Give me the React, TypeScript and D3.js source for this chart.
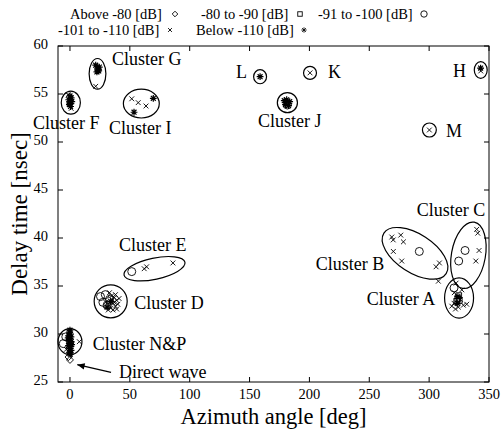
import { scaleLinear } from "d3";

type Pt = [number, number];

// measured points, [azimuth deg, delay nsec], grouped by received level
const above80: Pt[] = [[0, 27.3], [-1.2, 27.6]];
const from80to90: Pt[] = [[323.9, 33.7], [324.8, 34.0], [323, 33.4], [325.2, 33.5]];
const from91to100: Pt[] = [
  [-5.6, 29.0], [-3.5, 29.7],
  [25.5, 33.9], [29.5, 34.1], [27.5, 33.3], [33, 33.6], [31, 33.0],
  [51.6, 36.5],
  [181.6, 53.85],
  [291.8, 38.6], [330, 38.7], [324.7, 37.6], [320.8, 34.8]
];
const from101to110: Pt[] = [
  [7.8, 29.2], [-3, 28.4],
  [-1.5, 54.9], [1, 53.5], [21.5, 55.8],
  [51.6, 54.5], [57, 54.1], [63.5, 53.75],
  [33, 34.3], [35, 34.0], [37, 33.8], [39, 33.5], [36, 33.2], [38, 32.9], [34, 32.7],
  [40, 33.1], [32, 32.5], [36, 32.5], [30, 33.3], [38, 34.1], [41, 33.7], [35, 33.6],
  [33, 33.0], [37, 33.3], [39, 32.6],
  [62, 36.8], [64, 37.0], [86, 37.4],
  [200.5, 57.2], [343.1, 57.4], [300.2, 51.25],
  [268.8, 40.1], [270, 39.8], [276.3, 40.3], [278.5, 39.6], [270.1, 38.6], [277.1, 37.6],
  [305.8, 37.0], [308.6, 37.4], [307.7, 35.5],
  [339.7, 40.9], [340.6, 40.5], [341.7, 38.7], [339, 37.6],
  [322.5, 35.3], [327.3, 34.6], [320.8, 33.2], [324.4, 32.8], [328.6, 33.0], [331.4, 33.1],
  [318.9, 32.9], [321, 34.3], [326, 33.6], [322, 32.6]
];
const below110: Pt[] = [
  [-0.5, 30.2], [0.5, 30.0], [-1, 29.8], [0.8, 29.7], [0, 29.5], [-0.8, 29.3], [1, 29.2],
  [0.2, 29.0], [-1.2, 28.8], [0.6, 28.7], [-0.3, 28.5], [0.9, 28.3], [-0.6, 28.1],
  [0.3, 27.9], [-1.5, 29.6], [1.4, 28.9], [0, 30.4], [-0.2, 28.0],
  [-1, 54.4], [0, 54.0], [1, 54.6], [0.5, 53.7], [-0.5, 53.9], [1.5, 54.2], [0, 54.8],
  [21.5, 58.0], [23, 57.7], [24, 57.4], [22.5, 57.3], [24.5, 57.8], [23.5, 57.5],
  [69.6, 54.55], [53.5, 53.1],
  [34, 33.4], [31, 32.8],
  [158.8, 56.8],
  [179, 54.3], [181, 54.4], [183.5, 54.2], [180, 53.9], [182.5, 53.8],
  [343, 57.7],
  [324, 33.9], [323.5, 33.2]
];

// cluster outlines: centre, half-widths in data units, tilt in screen degrees
const clusters = [
  { name: "N&P", az: 0, delay: 29.2, rAz: 10, rDelay: 1.35, tilt: 0 },
  { name: "F", az: 0.7, delay: 54.1, rAz: 8, rDelay: 1.2, tilt: 0 },
  { name: "G", az: 23, delay: 57.1, rAz: 7, rDelay: 1.6, tilt: 0 },
  { name: "I", az: 59.6, delay: 54.0, rAz: 15, rDelay: 1.5, tilt: 0 },
  { name: "J", az: 181.6, delay: 54.1, rAz: 8.4, rDelay: 1.05, tilt: 0 },
  { name: "L", az: 158.8, delay: 56.8, rAz: 5.4, rDelay: 0.73, tilt: 0 },
  { name: "K", az: 200.5, delay: 57.2, rAz: 5.4, rDelay: 0.68, tilt: 0 },
  { name: "H", az: 343.1, delay: 57.5, rAz: 5.4, rDelay: 0.88, tilt: 0 },
  { name: "M", az: 300.2, delay: 51.25, rAz: 5.8, rDelay: 0.73, tilt: 0 },
  { name: "E", az: 70.6, delay: 36.8, rAz: 26, rDelay: 1.1, tilt: -12 },
  { name: "D", az: 34, delay: 33.4, rAz: 13.8, rDelay: 1.72, tilt: 0 },
  { name: "B", az: 288.2, delay: 38.4, rAz: 31, rDelay: 2.0, tilt: 33 },
  { name: "C", az: 332.8, delay: 38.2, rAz: 14.2, rDelay: 3.5, tilt: 10 },
  { name: "A", az: 325, delay: 33.75, rAz: 12.1, rDelay: 2.1, tilt: 0 }
];

const labels = [
  { text: "Cluster G", az: 35.1, delay: 58.0 },
  { text: "Cluster F", az: -30.9, delay: 51.35 },
  { text: "Cluster I", az: 32.6, delay: 50.8 },
  { text: "L", az: 138.7, delay: 56.7 },
  { text: "K", az: 215.6, delay: 56.7 },
  { text: "H", az: 320, delay: 56.8 },
  { text: "Cluster J", az: 157.1, delay: 51.6 },
  { text: "M", az: 314.1, delay: 50.5 },
  { text: "Cluster E", az: 41, delay: 38.6 },
  { text: "Cluster D", az: 53.7, delay: 32.6 },
  { text: "Cluster N&P", az: 19, delay: 28.3 },
  { text: "Direct wave", az: 41, delay: 25.4 },
  { text: "Cluster B", az: 205.3, delay: 36.7 },
  { text: "Cluster C", az: 289.7, delay: 42.3 },
  { text: "Cluster A", az: 247.9, delay: 33.0 }
];

const arrowFrom: Pt = [34.3, 26.0];
const arrowTo: Pt = [6.1, 26.8];

const xTicks = [0, 50, 100, 150, 200, 250, 300, 350];
const yTicks = [25, 30, 35, 40, 45, 50, 55, 60];

const legendItems = [
  { text: "Above -80 [dB]", marker: "diamond", x: 70, mx: 175, y: 19 },
  { text: "-80 to -90 [dB]", marker: "square", x: 201, mx: 300, y: 19 },
  { text: "-91 to -100 [dB]", marker: "circle", x: 318, mx: 424, y: 19 },
  { text: "-101 to -110 [dB]", marker: "cross", x: 58, mx: 170, y: 35 },
  { text: "Below -110 [dB]", marker: "star", x: 196, mx: 304, y: 35 }
];

const width = 504;
const height = 430;
const plot = { left: 58, right: 489, top: 46, bottom: 382 };
const font = "'Liberation Serif', 'Times New Roman', serif";
const tickLen = 5;

function Marker({ kind, x, y, s = 1 }: { kind: string; x: number; y: number; s?: number }) {
  const stroke = { stroke: "#000", strokeWidth: 0.9, fill: "none" };
  if (kind === "diamond") {
    const r = 3.5 * s;
    return <path d={`M${x},${y - r}L${x + r},${y}L${x},${y + r}L${x - r},${y}Z`} {...stroke} />;
  }
  if (kind === "square") {
    const r = 2.8 * s;
    return <rect x={x - r} y={y - r} width={r * 2} height={r * 2} {...stroke} />;
  }
  if (kind === "circle") {
    return <circle cx={x} cy={y} r={4 * s} {...stroke} />;
  }
  if (kind === "cross") {
    const r = 2.4 * s;
    return <path d={`M${x - r},${y - r}L${x + r},${y + r}M${x - r},${y + r}L${x + r},${y - r}`} {...stroke} />;
  }
  const r = 3.4 * s;
  const d = r * 0.72;
  return (
    <path
      d={`M${x},${y - r}L${x},${y + r}M${x - r},${y}L${x + r},${y}M${x - d},${y - d}L${x + d},${y + d}M${x - d},${y + d}L${x + d},${y - d}`}
      stroke="#000"
      strokeWidth={s < 1 ? 0.8 : 1.2}
      fill="none"
    />
  );
}

export default function App() {
  const x = scaleLinear().domain([-10, 350]).range([plot.left, plot.right]);
  const y = scaleLinear().domain([25, 60]).range([plot.bottom, plot.top]);
  const pxPerAz = x(1) - x(0);
  const pxPerDelay = y(0) - y(1);

  const series: { kind: string; pts: Pt[] }[] = [
    { kind: "diamond", pts: above80 },
    { kind: "square", pts: from80to90 },
    { kind: "circle", pts: from91to100 },
    { kind: "cross", pts: from101to110 },
    { kind: "star", pts: below110 }
  ];

  const ax1 = x(arrowFrom[0]);
  const ay1 = y(arrowFrom[1]);
  const ax2 = x(arrowTo[0]);
  const ay2 = y(arrowTo[1]);
  const ang = Math.atan2(ay2 - ay1, ax2 - ax1);
  const head = 8;
  const h1 = [ax2 - head * Math.cos(ang - 0.4), ay2 - head * Math.sin(ang - 0.4)];
  const h2 = [ax2 - head * Math.cos(ang + 0.4), ay2 - head * Math.sin(ang + 0.4)];

  return (
    <svg
      width={width}
      height={height}
      style={{ position: "absolute", left: 0, top: 0, background: "#fff" }}
      fontFamily={font}
    >
      <rect x={0} y={0} width={width} height={height} fill="#fff" />

      {legendItems.map((item) => (
        <g key={item.text}>
          <text x={item.x} y={item.y} fontSize={14.5}>
            {item.text}
          </text>
          <Marker kind={item.marker} x={item.mx} y={item.y - 5} s={0.8} />
        </g>
      ))}

      <rect
        x={plot.left}
        y={plot.top}
        width={plot.right - plot.left}
        height={plot.bottom - plot.top}
        fill="none"
        stroke="#000"
        strokeWidth={1}
      />

      {xTicks.map((t) => (
        <g key={`x${t}`}>
          <line x1={x(t)} x2={x(t)} y1={plot.bottom} y2={plot.bottom - tickLen} stroke="#000" />
          <line x1={x(t)} x2={x(t)} y1={plot.top} y2={plot.top + tickLen} stroke="#000" />
          <text x={x(t)} y={plot.bottom + 17} fontSize={14.5} textAnchor="middle">
            {t}
          </text>
        </g>
      ))}
      {yTicks.map((t) => (
        <g key={`y${t}`}>
          <line x1={plot.left} x2={plot.left + tickLen} y1={y(t)} y2={y(t)} stroke="#000" />
          <line x1={plot.right} x2={plot.right - tickLen} y1={y(t)} y2={y(t)} stroke="#000" />
          <text x={plot.left - 10} y={y(t)} fontSize={14.5} textAnchor="end" dominantBaseline="middle">
            {t}
          </text>
        </g>
      ))}

      <text x={(plot.left + plot.right) / 2} y={424} fontSize={22.5} textAnchor="middle">
        Azimuth angle [deg]
      </text>
      <text
        transform={`translate(27, ${(plot.top + plot.bottom) / 2}) rotate(-90)`}
        fontSize={23}
        textAnchor="middle"
      >
        Delay time [nsec]
      </text>

      {clusters.map((c) => (
        <ellipse
          key={c.name}
          cx={0}
          cy={0}
          rx={c.rAz * pxPerAz}
          ry={c.rDelay * pxPerDelay}
          transform={`translate(${x(c.az)}, ${y(c.delay)}) rotate(${c.tilt})`}
          fill="none"
          stroke="#000"
          strokeWidth={1.2}
        />
      ))}

      {series.map((s) =>
        s.pts.map((p, i) => <Marker key={`${s.kind}-${i}`} kind={s.kind} x={x(p[0])} y={y(p[1])} />)
      )}

      {labels.map((l) => (
        <text key={l.text} x={x(l.az)} y={y(l.delay)} fontSize={18}>
          {l.text}
        </text>
      ))}

      <line x1={ax1} y1={ay1} x2={ax2} y2={ay2} stroke="#000" strokeWidth={1.3} />
      <path d={`M${h1[0]},${h1[1]}L${ax2},${ay2}L${h2[0]},${h2[1]}Z`} fill="#000" />
    </svg>
  );
}
